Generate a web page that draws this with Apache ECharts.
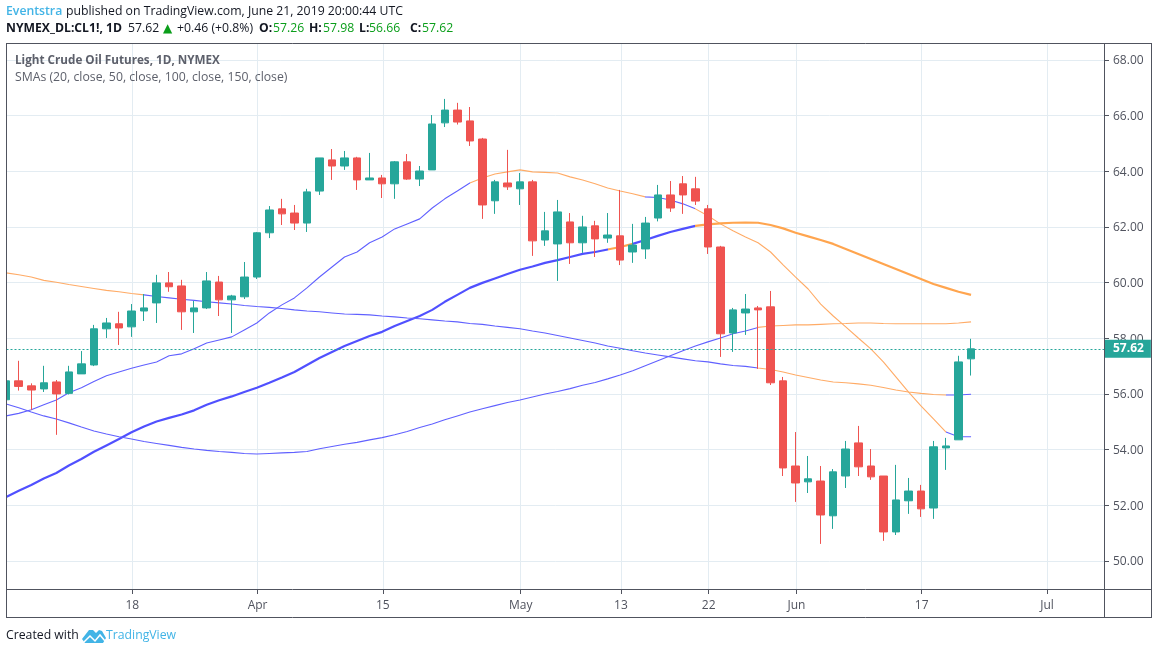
<!DOCTYPE html>
<html><head><meta charset="utf-8">
<style>html,body{margin:0;padding:0;background:#fff}#c{width:1158px;height:654px}</style>
<script src="https://cdn.jsdelivr.net/npm/echarts@6/dist/echarts.min.js"></script>
</head><body><div id="c"></div>
<script>
const open=[55.79,56.47,56.29,56.18,56.43,56.02,56.72,57.04,58.34,58.52,58.41,58.98,59.27,59.99,59.88,58.95,59.09,60.02,59.38,59.49,60.20,61.79,62.65,62.50,62.14,63.29,64.41,64.19,64.48,63.69,63.76,63.55,64.34,63.72,64.05,65.74,66.20,65.81,65.16,62.94,63.58,63.37,63.62,61.53,61.39,62.18,61.43,62.04,61.60,61.68,61.10,61.21,62.32,63.15,63.55,63.37,62.65,61.28,58.19,58.91,59.09,59.13,56.47,53.41,52.84,52.87,51.62,53.05,54.24,53.41,53.05,51.04,52.16,52.51,51.90,54.06,54.35,57.26];
const close=[56.47,56.27,56.14,56.40,56.00,56.79,57.08,58.34,58.55,58.37,58.98,59.09,59.99,59.85,58.95,59.09,60.06,59.38,59.52,60.20,61.79,62.61,62.47,62.14,63.26,64.48,64.19,64.48,63.69,63.76,63.55,64.34,63.72,64.01,65.70,66.20,65.77,65.09,62.79,63.62,63.44,63.62,61.50,61.86,62.54,61.43,62.00,61.57,61.71,60.81,61.35,62.14,63.15,62.68,63.15,62.93,61.28,58.16,59.02,59.05,59.02,56.40,53.34,52.80,52.95,51.65,53.20,54.02,53.38,53.02,51.04,52.19,52.51,51.87,54.10,54.13,57.15,57.62];
const low=[55.70,56.12,55.43,56.07,54.53,55.98,56.72,57.00,58.01,57.76,58.05,58.62,58.55,59.67,58.30,58.19,59.05,58.80,58.19,59.41,60.13,61.60,62.07,61.89,61.82,63.15,63.69,64.05,63.33,63.69,63.04,63.01,63.69,63.47,64.05,65.59,65.68,64.91,62.29,62.47,63.33,62.79,60.96,61.32,60.06,60.67,61.07,60.92,61.43,60.63,60.71,60.85,62.20,62.54,62.47,62.79,61.03,57.33,57.51,58.12,56.90,56.32,53.05,52.12,52.44,50.61,51.15,52.62,53.05,52.91,50.72,50.93,51.69,51.58,51.51,53.27,54.35,56.66];
const high=[56.50,57.19,56.38,57.01,56.50,57.01,57.54,58.48,58.73,58.95,59.23,59.59,60.28,60.38,60.10,59.34,60.38,60.24,59.56,60.74,61.82,62.75,63.01,62.79,63.37,64.48,64.80,64.73,64.52,64.66,63.87,64.37,64.62,64.19,66.02,66.60,66.46,66.31,65.20,63.69,64.77,63.94,63.69,62.54,62.97,62.50,62.40,62.22,62.50,63.33,62.11,62.36,63.51,63.65,63.83,63.80,62.79,61.32,59.09,59.59,59.16,59.70,56.61,54.63,53.77,53.41,53.30,54.31,54.85,54.02,53.05,53.45,52.98,52.73,54.31,54.42,57.37,57.98];
const sma20=[55.21,55.30,55.43,55.61,55.78,56.04,56.22,56.45,56.65,56.79,56.92,57.04,57.15,57.37,57.44,57.62,57.83,57.94,58.05,58.30,58.55,58.91,59.20,59.45,59.81,60.20,60.56,60.92,61.10,61.43,61.64,61.93,62.11,62.29,62.68,63.01,63.29,63.58,63.76,63.90,63.98,64.05,63.98,63.96,63.94,63.80,63.69,63.55,63.40,63.29,63.19,63.08,63.06,62.97,62.83,62.65,62.40,62.11,61.86,61.64,61.43,61.10,60.64,60.20,59.77,59.23,58.80,58.41,58.01,57.62,57.15,56.61,56.07,55.57,55.10,54.63,54.46,54.46];
const sma50=[52.30,52.52,52.73,52.96,53.16,53.43,53.66,53.92,54.15,54.38,54.62,54.83,55.01,55.14,55.26,55.41,55.61,55.77,55.91,56.07,56.22,56.40,56.59,56.79,57.04,57.29,57.51,57.72,57.90,58.08,58.23,58.44,58.62,58.80,59.02,59.31,59.56,59.81,59.99,60.15,60.31,60.46,60.58,60.71,60.81,60.92,61.03,61.10,61.19,61.28,61.39,61.53,61.68,61.82,61.93,62.04,62.09,62.13,62.15,62.16,62.15,62.07,61.95,61.79,61.66,61.53,61.39,61.21,61.03,60.85,60.67,60.49,60.31,60.13,59.95,59.81,59.67,59.56];
const sma100=[60.35,60.28,60.20,60.08,60.01,59.93,59.86,59.79,59.72,59.67,59.61,59.56,59.50,59.45,59.40,59.36,59.31,59.27,59.23,59.18,59.14,59.11,59.07,59.02,58.98,58.95,58.91,58.87,58.86,58.84,58.80,58.77,58.73,58.70,58.66,58.62,58.59,58.53,58.50,58.44,58.39,58.34,58.26,58.19,58.10,58.01,57.92,57.83,57.72,57.64,57.55,57.47,57.40,57.33,57.26,57.19,57.15,57.08,57.02,56.99,56.93,56.88,56.79,56.68,56.59,56.50,56.43,56.40,56.36,56.31,56.23,56.14,56.07,56.02,55.98,55.96,55.96,55.99];
const sma150=[55.64,55.50,55.35,55.21,55.10,54.96,54.81,54.67,54.56,54.46,54.38,54.29,54.22,54.15,54.08,54.02,53.97,53.93,53.90,53.86,53.84,53.86,53.88,53.90,53.93,54.03,54.11,54.19,54.26,54.35,54.43,54.53,54.65,54.79,54.92,55.07,55.21,55.35,55.47,55.58,55.69,55.78,55.89,56.00,56.09,56.19,56.31,56.41,56.54,56.68,56.83,57.01,57.19,57.37,57.55,57.72,57.87,58.01,58.16,58.26,58.39,58.44,58.46,58.48,58.48,58.50,58.52,58.53,58.55,58.55,58.53,58.52,58.52,58.52,58.52,58.52,58.55,58.59];
const priceTicks=[50,52,54,56,58,60,62,64,66,68];
const dateTickSessions=[10,20,30,41,49,56,63,73,83];
const dateTickLabels=['18','Apr','15','May','13','22','Jun','17','Jul'];
const lastPrice=57.62;

const BLUE='#6060ff',BLUE_BOLD='#5050ff',ORANGE='#ffab66',ORANGE_BOLD='#ffa54f';
const UP='#26a69a',DOWN='#ef5350',GRID='#e3ecf2',FRAME='#50535e';
const FONT='"Open Sans",sans-serif';
const tickValues=dateTickSessions.map(s=>s+0.06);

const pairs=a=>a.map((v,i)=>[i,v]);
const smaSeries=(name,a,w)=>({name,type:'line',data:pairs(a),showSymbol:false,symbol:'none',z:2,lineStyle:{width:w},silent:true});
const pieces=(list)=>list.map(([gte,lt,color])=>({gte,lt,color}));
const t=(x,y,text,fill,extra)=>({type:'text',x,y,z:20,style:Object.assign({text,fill,font:'12.25px '+FONT,textVerticalAlign:'middle'},extra||{})});
const b=(x,y,text,fill)=>t(x,y,text,fill,{font:'bold 12.2px '+FONT});
const seg=(x1,y1,x2,y2)=>({type:'line',z:15,shape:{x1,y1,x2,y2},style:{stroke:FRAME,lineWidth:1}});
const GREEN='#0a9e1a',INK='#131722',BRAND='#42b4e6';

const chart=echarts.init(document.getElementById('c'),null,{renderer:'canvas'});
chart.setOption({
 animation:false,
 backgroundColor:'#fff',
 grid:{left:6.5,right:54,top:43,bottom:65,containLabel:false},
 xAxis:{type:'value',min:0.024,max:87.61,
  axisLine:{show:false},
  axisTick:{show:true,length:5,lineStyle:{color:FRAME},customValues:tickValues},
  axisLabel:{show:true,margin:11,color:FRAME,fontSize:12,fontFamily:FONT,customValues:tickValues,
    formatter:v=>dateTickLabels[tickValues.indexOf(v)]||''},
  splitLine:{show:true,lineStyle:{color:GRID,width:1}}},
 yAxis:{type:'value',position:'right',min:48.99,max:68.61,scale:true,
  axisLine:{show:false},
  axisTick:{show:true,length:5,lineStyle:{color:FRAME},customValues:priceTicks},
  axisLabel:{show:true,margin:9,color:FRAME,fontSize:12,fontFamily:FONT,verticalAlign:'top',padding:[-5,0,0,0],customValues:priceTicks,formatter:v=>v.toFixed(2)},
  splitLine:{show:true,lineStyle:{color:GRID,width:1}}},
 visualMap:[
  {show:false,type:'piecewise',seriesIndex:0,dimension:0,pieces:pieces([[0,37,BLUE],[37,51,ORANGE],[51,55,BLUE],[55,75,ORANGE],[75,78,BLUE]])},
  {show:false,type:'piecewise',seriesIndex:1,dimension:0,pieces:pieces([[0,48,BLUE_BOLD],[48,50,ORANGE_BOLD],[50,55,BLUE_BOLD],[55,78,ORANGE_BOLD]])},
  {show:false,type:'piecewise',seriesIndex:2,dimension:0,pieces:pieces([[0,11,ORANGE],[11,60,BLUE],[60,75,ORANGE],[75,78,BLUE]])},
  {show:false,type:'piecewise',seriesIndex:3,dimension:0,pieces:pieces([[0,60,BLUE],[60,78,ORANGE]])}
 ],
 series:[
  smaSeries('SMA 20',sma20,1.1),
  smaSeries('SMA 50',sma50,2.2),
  smaSeries('SMA 100',sma100,1.1),
  smaSeries('SMA 150',sma150,1.1),
  {name:'CL1!',type:'candlestick',z:5,barWidth:8,
   data:open.map((o,i)=>[i,o,close[i],low[i],high[i]]),
   itemStyle:{color:UP,color0:DOWN,borderColor:UP,borderColor0:DOWN,borderWidth:1},
   markLine:{silent:true,symbol:'none',animation:false,z:12,
    lineStyle:{color:UP,type:[2,2],width:1},
    label:{show:true,position:'end',distance:0,formatter:lastPrice.toFixed(2),color:'#fff',fontWeight:'bold',fontSize:12,fontFamily:FONT,backgroundColor:UP,padding:[3,7,3,9]},
    data:[{yAxis:lastPrice}]}}
 ],
 graphic:[
  {type:'rect',z:14,shape:{x:0,y:43,width:6,height:546},style:{fill:'#fff'}},
  seg(6.5,43.5,1151.5,43.5),seg(6.5,43,6.5,617),seg(6,589.5,1152,589.5),seg(6,617.5,1152,617.5),seg(1104.5,43,1104.5,617),seg(1151.5,43,1151.5,617),
  t(6,12,'Eventstra',BRAND,{font:'600 12.25px '+FONT}),
  t(66,12,'published on TradingView.com, June 21, 2019 20:00:44 UTC',INK),
  b(6,29,'NYMEX_DL:CL1!, 1D',INK),
  t(128,29,'57.62',INK),
  t(163,29,'▲',GREEN,{font:'12px "DejaVu Sans"'}),
  t(177,29,'+0.46 (+0.8%)',INK),
  b(259,29,'O:',INK),t(273,29,'57.26',GREEN),
  b(309,29,'H:',INK),t(323,29,'57.98',GREEN),
  b(359,29,'L:',INK),t(369,29,'56.66',GREEN),
  b(410,29,'C:',INK),t(422,29,'57.62',GREEN),
  t(15,61,'Light Crude Oil Futures, 1D, NYMEX','#5d606b',{font:'bold 11.7px '+FONT}),
  t(15,78,'SMAs (20, close, 50, close, 100, close, 150, close)','#5d606b'),
  t(6,636,'Created with',INK),
  {type:'polygon',z:20,shape:{points:[[82,639],[89,630],[93,630],[96,633],[99,630],[102,631],[106,638],[103,643],[85,643]]},style:{fill:BRAND}},
  {type:'polyline',z:21,shape:{points:[[84,642],[90,636],[95,641],[100,635],[105,641]]},style:{stroke:'#fff',fill:null,lineWidth:1.5}},
  t(106,636,'TradingView',BRAND)
 ]
});
</script></body></html>
